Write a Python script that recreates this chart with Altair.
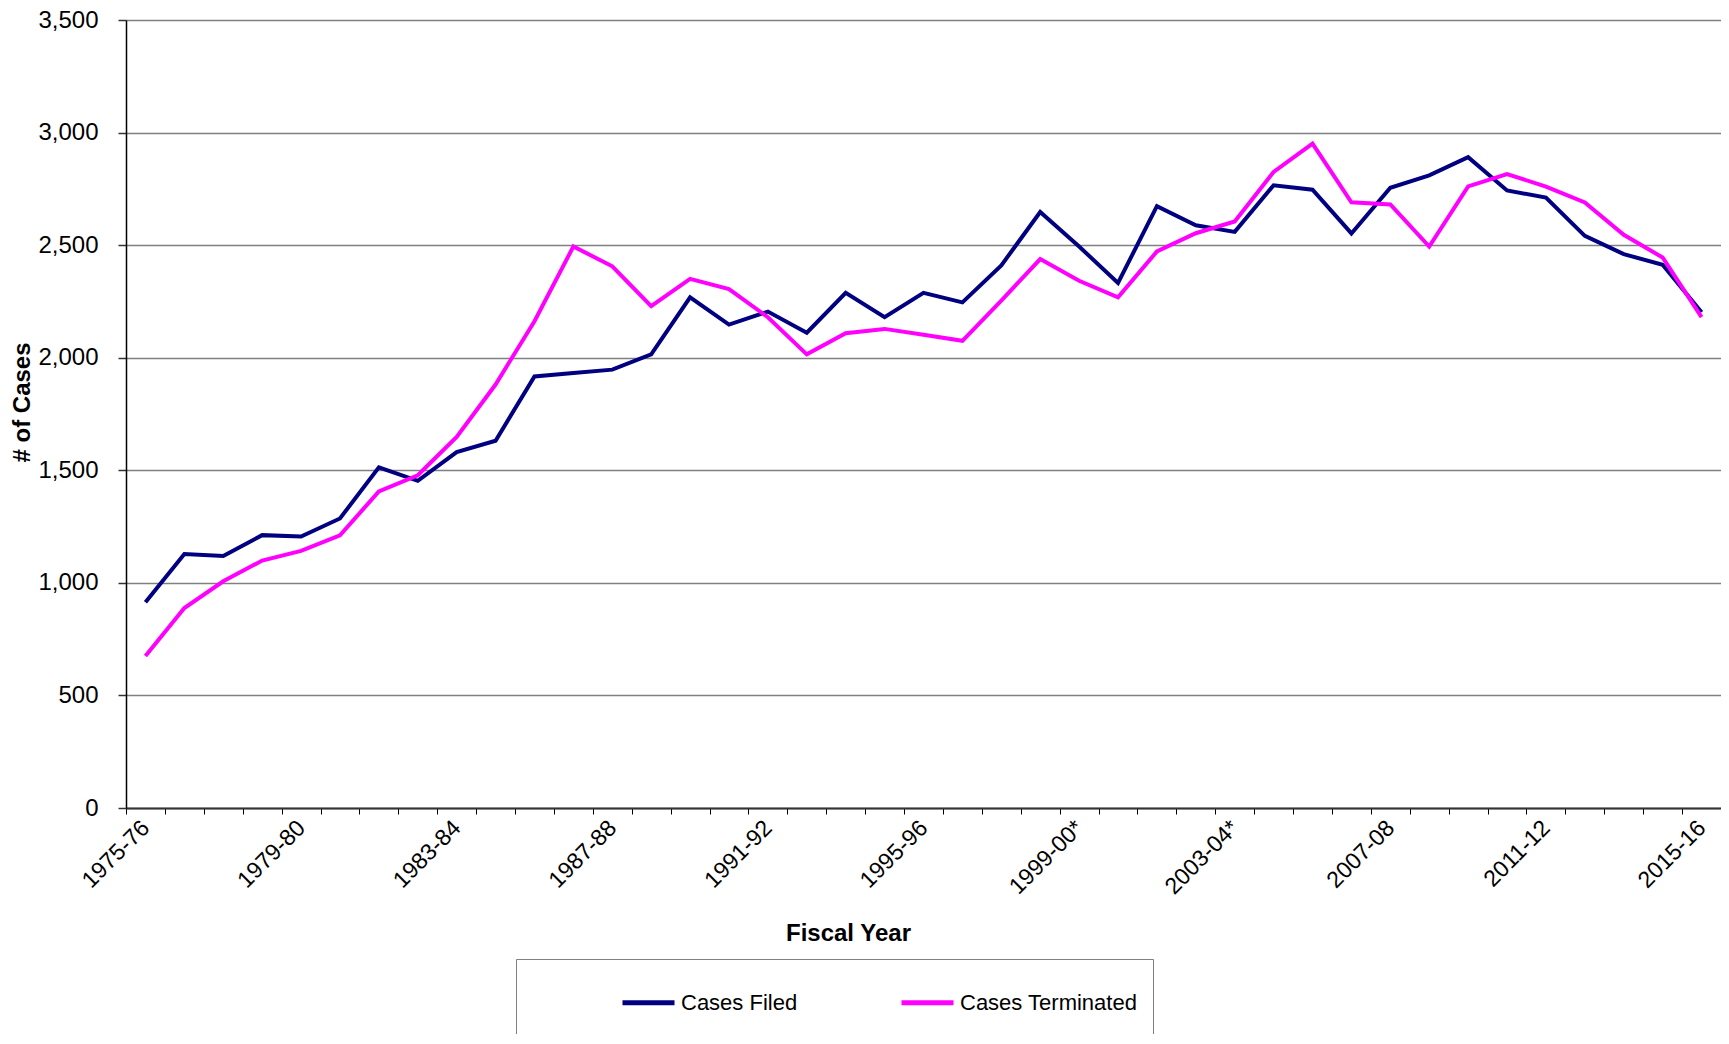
import json
import altair as alt
import pandas as pd

years = [
    "1975-76", "1976-77", "1977-78", "1978-79", "1979-80", "1980-81", "1981-82",
    "1982-83", "1983-84", "1984-85", "1985-86", "1986-87", "1987-88", "1988-89",
    "1989-90", "1990-91", "1991-92", "1992-93", "1993-94", "1994-95", "1995-96",
    "1996-97", "1997-98", "1998-99", "1999-00*", "2000-01", "2001-02", "2002-03",
    "2003-04*", "2004-05", "2005-06", "2006-07", "2007-08", "2008-09", "2009-10",
    "2010-11", "2011-12", "2012-13", "2013-14", "2014-15", "2015-16",
]

cases_filed = [
    914, 1128, 1119, 1212, 1206, 1286, 1513, 1453, 1581, 1631, 1917, 1932, 1947,
    2015, 2268, 2147, 2205, 2111, 2288, 2180, 2288, 2246, 2410, 2647, 2494, 2332,
    2673, 2588, 2559, 2766, 2746, 2552, 2755, 2810, 2891, 2743, 2711, 2541, 2460,
    2413, 2202,
]

cases_terminated = [
    675, 888, 1007, 1099, 1142, 1211, 1406, 1478, 1648, 1881, 2162, 2494, 2406,
    2229, 2350, 2305, 2180, 2015, 2109, 2128, 2102, 2075, 2254, 2438, 2342, 2268,
    2472, 2553, 2605, 2825, 2951, 2690, 2681, 2494, 2761, 2816, 2760, 2690, 2546,
    2445, 2180,
]

series_names = ["Cases Filed", "Cases Terminated"]
series_colors = ["#000080", "#FF00FF"]

shown_labels = [
    "1975-76", "1979-80", "1983-84", "1987-88", "1991-92", "1995-96",
    "1999-00*", "2003-04*", "2007-08", "2011-12", "2015-16",
]

y_ticks = [0, 500, 1000, 1500, 2000, 2500, 3000, 3500]

rows = []
for name, vals in zip(series_names, [cases_filed, cases_terminated]):
    for yr, v in zip(years, vals):
        rows.append({"Fiscal Year": yr, "Cases": v, "Series": name})
df = pd.DataFrame(rows)

label_expr = (
    "indexof(" + json.dumps(shown_labels) + ", datum.value) >= 0 ? datum.label : ''"
)

FONT = "Liberation Sans"

chart = (
    alt.Chart(df)
    .mark_line(strokeWidth=4)
    .encode(
        x=alt.X(
            "Fiscal Year:N",
            sort=years,
            scale=alt.Scale(type="band", paddingInner=0, paddingOuter=0),
            axis=alt.Axis(
                title="Fiscal Year",
                labelExpr=label_expr,
                labelAngle=-45,
                labelAlign="right",
                labelBaseline="middle",
                labelFontSize=23,
                labelPadding=10,
                labelColor="black",
                labelOverlap=False,
                tickBand="extent",
                tickSize=6,
                tickColor="#000000",
                tickWidth=1,
                domainColor="#333333",
                domainWidth=2,
                grid=False,
                titleFontSize=24,
                titleFontWeight="bold",
                titleColor="black",
                titleX=722,
                titleY=125,
                titleAlign="center",
                titleBaseline="middle",
            ),
        ),
        y=alt.Y(
            "Cases:Q",
            scale=alt.Scale(domain=[0, 3500], nice=False),
            axis=alt.Axis(
                title="# of Cases",
                values=y_ticks,
                format=",.0f",
                labelFontSize=24,
                labelPadding=20,
                labelColor="black",
                tickSize=8,
                tickColor="#333333",
                tickWidth=1.5,
                domainColor="#000000",
                domainWidth=1.5,
                grid=True,
                gridColor="#808080",
                gridWidth=1.5,
                titleFontSize=24,
                titleFontWeight="bold",
                titleColor="black",
                titleAngle=270,
                titleX=-104,
                titleY=382,
                titleAlign="center",
                titleBaseline="middle",
            ),
        ),
        color=alt.Color(
            "Series:N",
            scale=alt.Scale(domain=series_names, range=series_colors),
            legend=alt.Legend(
                title="\u00a0",
                titleOrient="left",
                titleFontSize=90,
                titleAnchor="start",
                titleBaseline="top",
                titlePadding=89,
                orient="none",
                legendX=390,
                legendY=939,
                direction="horizontal",
                symbolType="stroke",
                symbolSize=2704,
                symbolStrokeWidth=5,
                labelFontSize=22,
                labelColor="black",
                labelOffset=4,
                labelLimit=600,
                columnPadding=93,
                padding=15,
                strokeColor="#808080",
                fillColor="white",
            ),
        ),
    )
    .properties(
        width=1595,
        height=788,
        autosize=alt.AutoSizeParams(type="none"),
        padding={"left": 118, "top": 12, "right": 0, "bottom": 226},
    )
    .configure(font=FONT)
    .configure_view(stroke="transparent")
)

chart.save("out.html", embed_options={"renderer": "svg", "actions": False})
